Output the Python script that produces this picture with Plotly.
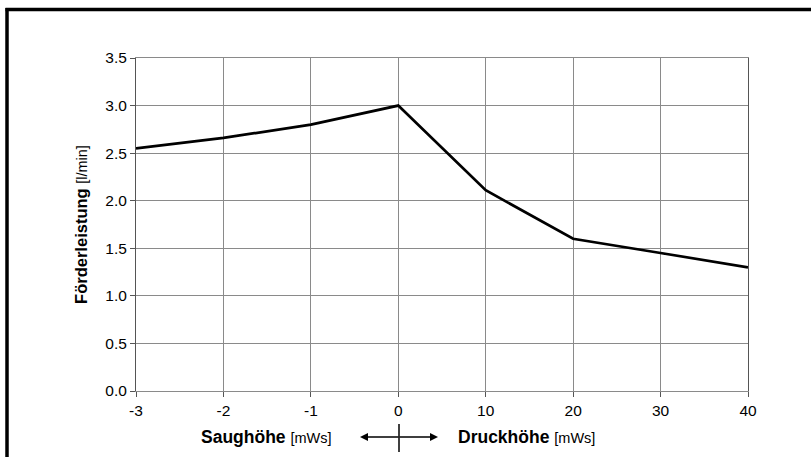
import plotly.graph_objects as go

categories = ["-3", "-2", "-1", "0", "10", "20", "30", "40"]
foerderleistung = [2.55, 2.66, 2.80, 3.00, 2.11, 1.60, 1.45, 1.30]
y_ticks = [0.0, 0.5, 1.0, 1.5, 2.0, 2.5, 3.0, 3.5]

W, H = 811, 457
L, R, T, B = 136, 748, 58, 391
pw, ph = R - L, B - T

def px(x):
    return (x - L) / pw

def py(y):
    return (B - y) / ph

fig = go.Figure()
fig.add_trace(go.Scatter(
    x=categories, y=foerderleistung, mode="lines",
    line=dict(color="black", width=2.7), showlegend=False,
    cliponaxis=False,
))

font = "Liberation Sans, Arial, sans-serif"
grid = "#8a8a8a"

fig.update_layout(
    width=W, height=H,
    margin=dict(l=L, r=W - R, t=T, b=H - B),
    paper_bgcolor="white", plot_bgcolor="white",
    font=dict(family=font, size=15, color="black"),
    xaxis=dict(
        type="category", range=[0, len(categories) - 1],
        showgrid=True, gridcolor=grid, gridwidth=1,
        showline=True, linecolor=grid, linewidth=1, mirror=True,
        ticks="outside", ticklen=5, tickcolor="#555",
        tickfont=dict(size=15.5, family=font), zeroline=False,
    ),
    yaxis=dict(
        range=[0, 3.5], tickvals=y_ticks, tickformat=".1f",
        showgrid=True, gridcolor=grid, gridwidth=1,
        showline=True, linecolor="#555", linewidth=1, mirror=True,
        ticks="outside", ticklen=5, tickcolor="#555",
        tickfont=dict(size=15.5, family=font), zeroline=False,
        title=dict(
            text="<b>Förderleistung</b> <span style='font-size:14.5px'>[l/min]</span>",
            font=dict(size=16.5, family=font), standoff=13,
        ),
    ),
    shapes=[
        # frame
        dict(type="line", xref="paper", yref="paper",
             x0=px(7), x1=px(7), y0=py(8), y1=py(460),
             line=dict(color="black", width=3.5)),
        dict(type="line", xref="paper", yref="paper",
             x0=px(5.5), x1=px(815), y0=py(9.5), y1=py(9.5),
             line=dict(color="black", width=3.5)),
        # vertical divider at origin
        dict(type="line", xref="paper", yref="paper",
             x0=px(399), x1=px(399), y0=py(424), y1=py(452),
             line=dict(color="black", width=1.5)),
    ],
    annotations=[
        dict(xref="paper", yref="paper", x=px(334), y=py(437),
             text="<b>Saughöhe</b> <span style='font-size:14.5px'>[mWs]</span>",
             showarrow=False, font=dict(size=17.5, family=font),
             xanchor="right", yanchor="middle"),
        dict(xref="paper", yref="paper", x=px(456), y=py(437),
             text="<b>Druckhöhe</b> <span style='font-size:14.5px'>[mWs]</span>",
             showarrow=False, font=dict(size=17.5, family=font),
             xanchor="left", yanchor="middle"),
        dict(xref="paper", yref="paper", x=px(360), y=py(437), text="",
             showarrow=True, ax=40, ay=0, arrowhead=2, arrowsize=1,
             arrowwidth=1.6, arrowcolor="black", standoff=0, startstandoff=0),
        dict(xref="paper", yref="paper", x=px(438), y=py(437), text="",
             showarrow=True, ax=-40, ay=0, arrowhead=2, arrowsize=1,
             arrowwidth=1.6, arrowcolor="black", standoff=0, startstandoff=0),
    ],
)

fig.write_html("out.html", config={"displayModeBar": False},
               post_script="document.body.style.margin='0';")
